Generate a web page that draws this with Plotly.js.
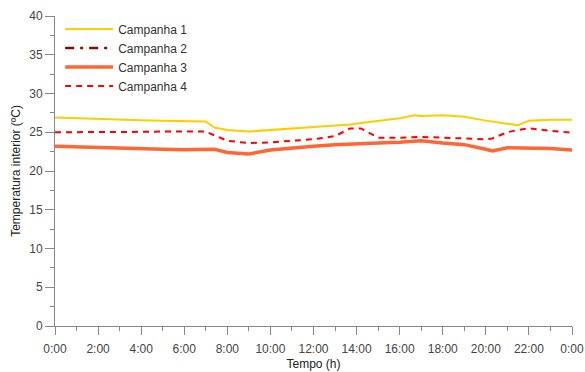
<!DOCTYPE html>
<html>
<head>
<meta charset="utf-8">
<script src="https://cdn.plot.ly/plotly-3.0.1.min.js"></script>
<style>html,body{margin:0;padding:0;background:#fff;}#chart{width:585px;height:372px;}</style>
</head>
<body>
<div id="chart"></div>
<script>
const hours = [0,1,2,3,4,5,6,7,7.4,8,9,10,11,12,13,13.7,14.2,15,16,16.7,17,18,19,20,20.3,21,21.5,22,23,24];
const campanha1 = [26.9,26.8,26.7,26.6,26.55,26.5,26.45,26.4,25.6,25.3,25.1,25.3,25.5,25.7,25.9,26.0,26.2,26.5,26.8,27.2,27.1,27.2,27.0,26.5,26.4,26.1,25.9,26.5,26.6,26.6];
// Campanha 2 appears only in the legend (no visible line in the plot)
const campanha2 = [null];
const campanha3 = [23.2,23.1,23.0,22.9,22.85,22.8,22.75,22.85,22.8,22.4,22.2,22.7,23.0,23.2,23.4,23.5,23.5,23.6,23.7,23.85,23.9,23.6,23.4,22.8,22.6,23.0,23.0,23.0,22.9,22.7];
const campanha4 = [25.0,25.0,25.0,25.05,25.05,25.1,25.1,25.1,24.6,23.9,23.6,23.7,23.9,24.1,24.5,25.5,25.5,24.3,24.3,24.4,24.4,24.3,24.2,24.1,24.2,25.0,25.3,25.5,25.2,24.95];
const tickVals = [0,2,4,6,8,10,12,14,16,18,20,22,24];
const tickText = ["0:00","2:00","4:00","6:00","8:00","10:00","12:00","14:00","16:00","18:00","20:00","22:00","0:00"];

const traces = [
  {x: hours, y: campanha1, name: "Campanha 1", mode: "lines", line: {color: "#FFCC00", width: 2}},
  {x: [null], y: campanha2, name: "Campanha 2", mode: "lines", line: {color: "#990000", width: 2.5, dash: "9px,6px,3px,6px"}},
  {x: hours, y: campanha3, name: "Campanha 3", mode: "lines", line: {color: "#FF6633", width: 3.5}},
  {x: hours, y: campanha4, name: "Campanha 4", mode: "lines", line: {color: "#FF0000", width: 2, dash: "6px,5px"}}
];

const layout = {
  width: 585, height: 372,
  margin: {l: 55, r: 13, t: 16, b: 46},
  paper_bgcolor: "#fff", plot_bgcolor: "#fff",
  font: {family: "Liberation Sans, Arial, sans-serif", size: 12, color: "#333"},
  showlegend: true,
  legend: {x: 0.01, y: 1.005, xanchor: "left", yanchor: "top", bgcolor: "rgba(0,0,0,0)", font: {size: 12, color: "#333"}, tracegroupgap: 0, itemwidth: 48},
  xaxis: {
    range: [0, 24], tickvals: tickVals, ticktext: tickText,
    showgrid: false, zeroline: false, showline: true, linecolor: "#888", linewidth: 1,
    ticks: "outside", ticklen: 8, tickcolor: "#888", tickfont: {size: 12, color: "#444"},
    ticklabelstandoff: 4,
    minor: {dtick: 1, ticks: "outside", ticklen: 4, tickcolor: "#888", showgrid: false},
    title: {text: "Tempo (h)", font: {size: 12, color: "#222"}, standoff: 4}
  },
  yaxis: {
    range: [0, 40], dtick: 5,
    showgrid: false, zeroline: false, showline: true, linecolor: "#888", linewidth: 1,
    ticks: "outside", ticklen: 9, tickcolor: "#888", tickfont: {size: 12, color: "#444"},
    minor: {dtick: 2.5, ticks: "outside", ticklen: 4, tickcolor: "#888", showgrid: false},
    title: {text: "Temperatura interior (ºC)", font: {size: 12, color: "#222"}, standoff: 6}
  }
};

Plotly.newPlot("chart", traces, layout, {displayModeBar: false, staticPlot: true});
</script>
</body>
</html>
